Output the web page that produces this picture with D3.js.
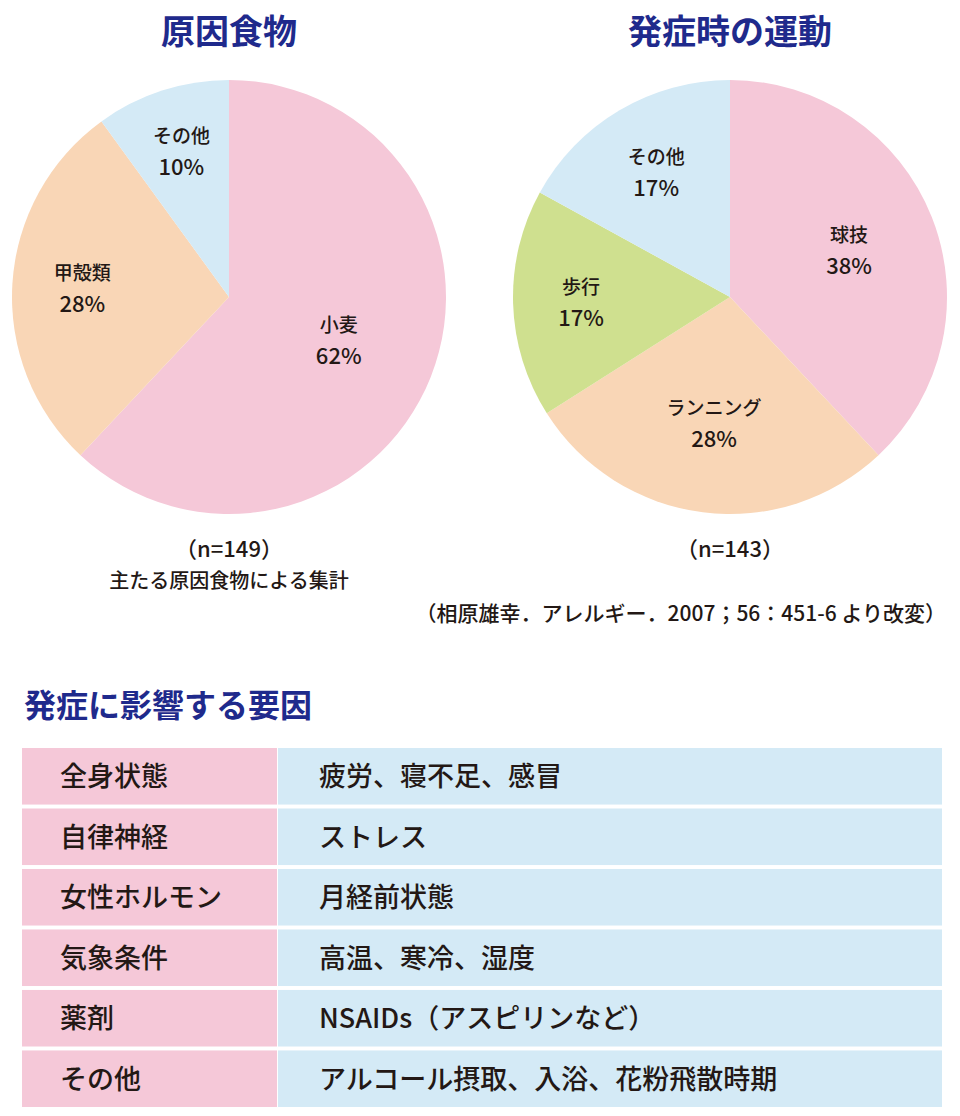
<!DOCTYPE html>
<html>
<head>
<meta charset="utf-8">
<script src="https://cdn.jsdelivr.net/npm/d3@7"></script>
<style>
  body { margin: 0; background: #fff; }
  svg { display: block; font-family: "Noto Sans CJK JP", "Noto Sans", sans-serif; }
</style>
</head>
<body>
<div id="chart"></div>
<script>
// data
var foodLabels = ["小麦", "甲殻類", "その他"];
var foodValues = [62, 28, 10];
var exerciseLabels = ["球技", "ランニング", "歩行", "その他"];
var exerciseValues = [38, 28, 17, 17];
var factorNames = ["全身状態", "自律神経", "女性ホルモン", "気象条件", "薬剤", "その他"];
var factorDetails = ["疲労、寝不足、感冒", "ストレス", "月経前状態", "高温、寒冷、湿度", "NSAIDs（アスピリンなど）", "アルコール摂取、入浴、花粉飛散時期"];

var width = 960, height = 1116;
var titleColor = "#1f2a8c", textColor = "#231815";
var pink = "#f5c8d8", peach = "#f9d6b6", blue = "#d4eaf6", green = "#cfe08f";

var svg = d3.select("#chart").append("svg")
    .attr("width", width)
    .attr("height", height);

// one pie with two-line labels inside the slices
function drawPie(cx, cy, r, title, labels, values, colors, labelR) {
    var g = svg.append("g").attr("transform", "translate(" + cx + "," + cy + ")");
    var pie = d3.pie().sort(null).value(function(d) { return d; });
    var arcs = pie(values);
    var arc = d3.arc().innerRadius(0).outerRadius(r);
    var color = d3.scaleOrdinal().domain(labels).range(colors);

    g.selectAll("path")
        .data(arcs)
        .enter()
        .append("path")
        .attr("d", arc)
        .attr("fill", function(d, i) { return color(labels[i]); });

    var lab = g.selectAll("g.lab")
        .data(arcs)
        .enter()
        .append("g")
        .attr("class", "lab")
        .attr("transform", function(d, i) {
            var c = d3.arc().innerRadius(labelR[i]).outerRadius(labelR[i]).centroid(d);
            return "translate(" + c[0] + "," + c[1] + ")";
        });
    lab.append("text")
        .attr("text-anchor", "middle")
        .attr("y", -8)
        .attr("font-size", 19)
        .attr("font-weight", 500)
        .attr("fill", textColor)
        .text(function(d, i) { return labels[i]; });
    lab.append("text")
        .attr("text-anchor", "middle")
        .attr("y", 24)
        .attr("font-size", 22)
        .attr("font-weight", 500)
        .attr("fill", textColor)
        .text(function(d) { return d.data + "%"; });

    svg.append("text")
        .attr("x", cx)
        .attr("y", 44)
        .attr("text-anchor", "middle")
        .attr("font-size", 34)
        .attr("font-weight", "bold")
        .attr("fill", titleColor)
        .text(title);
}

drawPie(229, 297, 217, "原因食物", foodLabels, foodValues, [pink, peach, blue], [118, 147, 154]);
drawPie(730, 297, 217, "発症時の運動", exerciseLabels, exerciseValues, [pink, peach, green, blue], [128, 127, 149, 145]);

// notes under the pies
svg.append("text").attr("x", 229).attr("y", 557).attr("text-anchor", "middle")
    .attr("font-size", 22).attr("font-weight", 500).attr("fill", textColor).text("（n=149）");
svg.append("text").attr("x", 229).attr("y", 588).attr("text-anchor", "middle")
    .attr("font-size", 20).attr("font-weight", 500).attr("fill", textColor).text("主たる原因食物による集計");
svg.append("text").attr("x", 730).attr("y", 557).attr("text-anchor", "middle")
    .attr("font-size", 22).attr("font-weight", 500).attr("fill", textColor).text("（n=143）");
svg.append("text").attr("x", 946).attr("y", 621).attr("text-anchor", "end")
    .attr("font-size", 21).attr("font-weight", 500).attr("fill", textColor)
    .text("（相原雄幸．アレルギー．2007；56：451-6 より改変）");

// table of factors
svg.append("text")
    .attr("x", 24)
    .attr("y", 717)
    .attr("font-size", 32)
    .attr("font-weight", "bold")
    .attr("fill", titleColor)
    .text("発症に影響する要因");

var rowY = d3.scaleBand()
    .domain(factorNames)
    .range([748, 1107])
    .paddingInner(0.065);
var colX = d3.scaleOrdinal().domain(["name", "detail"]).range([22, 278]);
var colW = { name: 255, detail: 664 };

var rows = svg.selectAll("g.row")
    .data(factorNames)
    .enter()
    .append("g")
    .attr("class", "row")
    .attr("transform", function(d) { return "translate(0," + rowY(d) + ")"; });

rows.append("rect")
    .attr("x", colX("name"))
    .attr("width", colW.name)
    .attr("height", rowY.bandwidth())
    .attr("fill", pink);
rows.append("rect")
    .attr("x", colX("detail"))
    .attr("width", colW.detail)
    .attr("height", rowY.bandwidth())
    .attr("fill", blue);
rows.append("text")
    .attr("x", 60)
    .attr("y", rowY.bandwidth() / 2 + 10)
    .attr("font-size", 27)
    .attr("font-weight", 500)
    .attr("fill", textColor)
    .text(function(d) { return d; });
rows.append("text")
    .attr("x", 319)
    .attr("y", rowY.bandwidth() / 2 + 10)
    .attr("font-size", 27)
    .attr("font-weight", 500)
    .attr("fill", textColor)
    .text(function(d, i) { return factorDetails[i]; });
</script>
</body>
</html>
